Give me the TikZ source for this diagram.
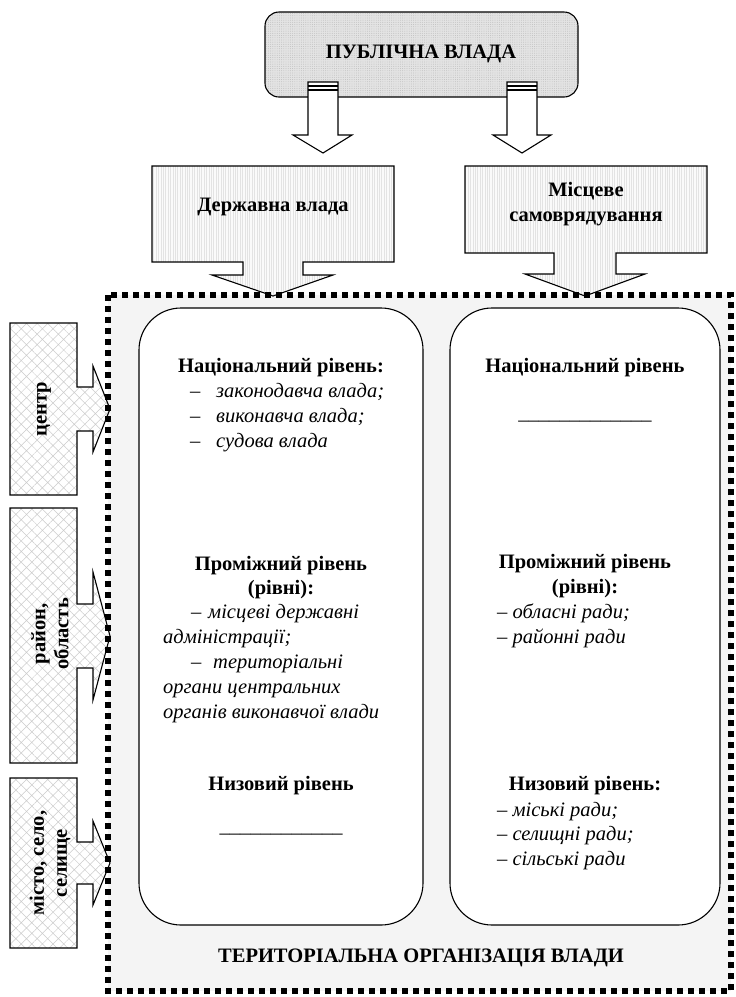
\documentclass[tikz,border=0pt]{standalone}
\usepackage{fontspec}
\setmainfont{Liberation Serif}
\usetikzlibrary{patterns.meta}
\newcommand\bodysize{\fontsize{20.5}{24.5}\selectfont}
\tikzset{
  outl/.style={line width=1.1pt, line join=miter},
  pubfill/.style={outl, preaction={fill=gray!22}, pattern={Dots[distance=2.2pt,radius=0.45pt]}, pattern color=gray!55},
  govfill/.style={outl, preaction={fill=gray!4}, pattern={Lines[angle=90,distance=2.4pt,line width=0.3pt]}, pattern color=gray!22},
  sidefill/.style={outl, preaction={fill=white}, pattern={Hatch[angle=45,distance=7.5pt,line width=0.5pt]}, pattern color=gray!40},
  lvlbox/.style={outl, fill=white, rounded corners=42pt},
  head/.style={font=\bodysize\bfseries, inner sep=0pt, anchor=base},
  item/.style={font=\bodysize\itshape, inner sep=0pt, anchor=base west},
  plain/.style={font=\bodysize, inner sep=0pt, anchor=base west},
  side/.style={font=\fontsize{20.5}{23}\selectfont\bfseries, inner sep=0pt, rotate=90, align=center},
}
\begin{document}
\begin{tikzpicture}[x=1pt,y=-1pt]
	\useasboundingbox (0,0) rectangle (736,997);
	% frame of the territorial organisation
	\fill[gray!9] (108,295) rectangle (731,991);
	\draw[lvlbox] (139,308) rectangle (423,925);
	\draw[lvlbox] (450,308) rectangle (720,925);
	% public power
	\draw[pubfill, rounded corners=14pt] (265,12) rectangle (578,97);
	\node[head] (pub) at (421,58) {ПУБЛІЧНА ВЛАДА};
	\draw[outl, fill=white] (308,82) -- (338,82) -- (338,135) -- (352,135) -- (323,153) -- (293,135) -- (308,135) -- cycle;
	\draw[outl] (308,86) -- (338,86) (308,90) -- (338,90);
	\draw[outl, fill=white] (507,82) -- (537,82) -- (537,135) -- (551,135) -- (522,153) -- (493,135) -- (507,135) -- cycle;
	\draw[outl] (507,86) -- (537,86) (507,90) -- (537,90);
	% state power and local self-government
	\draw[govfill] (152,166) -- (394,166) -- (394,262) -- (303,262) -- (303,275) -- (333,275) -- (273,296) -- (212,275) -- (243,275) -- (243,262) -- (152,262) -- cycle;
	\node[head] (gov) at (273,211) {Державна влада};
	\draw[govfill] (465,166) -- (707,166) -- (707,253) -- (616,253) -- (616,274) -- (645,274) -- (585,296) -- (525,274) -- (554,274) -- (554,253) -- (465,253) -- cycle;
	\node[head, anchor=center, align=center] (loc) at (586,204) {Місцеве\\самоврядування};
	% levels on the left
	\draw[sidefill] (10,323) -- (77,323) -- (77,387) -- (93,387) -- (93,366) -- (110,409) -- (93,452) -- (93,431) -- (77,431) -- (77,495) -- (10,495) -- cycle;
	\node[side] (cen) at (44,409) {центр};
	\draw[sidefill] (10,508) -- (77,508) -- (77,604) -- (93,604) -- (93,572) -- (110,636) -- (93,700) -- (93,668) -- (77,668) -- (77,763) -- (10,763) -- cycle;
	\node[side] (reg) at (50,634) {район,\\область};
	\draw[sidefill] (10,778) -- (77,778) -- (77,842) -- (93,842) -- (93,821) -- (110,863) -- (93,905) -- (93,884) -- (77,884) -- (77,948) -- (10,948) -- cycle;
	\node[side] (town) at (50,863) {місто, село,\\селище};
	% state power levels
	\node[head] (sn) at (281,372) {Національний рівень:};
	\node[plain] at (190,397) {–};
	\node[item] (sn1) at (216,397) {законодавча влада;};
	\node[plain] at (190,422) {–};
	\node[item] (sn2) at (216,422) {виконавча влада;};
	\node[plain] at (190,447) {–};
	\node[item] (sn3) at (216,447) {судова влада};
	\node[head] (sm) at (281,570) {Проміжний рівень};
	\node[head] (smr) at (281,594) {(рівні):};
	\node[plain] at (191,618) {–};
	\node[item] (sm1) at (208,618) {місцеві державні};
	\node[item] (sm1b) at (163,643) {адміністрації;};
	\node[plain] at (191,668) {–};
	\node[item] (sm2) at (213,668) {територіальні};
	\node[item] (sm2b) at (163,693) {органи центральних};
	\node[item] (sm2c) at (163,718) {органів виконавчої влади};
	\node[head] (sl) at (281,790) {Низовий рівень};
	\node[plain, anchor=base] (slx) at (281,832) {\_\_\_\_\_\_\_\_\_\_\_\_};
	% self-government levels
	\node[head] (ln) at (585,372) {Національний рівень};
	\node[plain, anchor=base] (lnx) at (585,419) {\_\_\_\_\_\_\_\_\_\_\_\_\_};
	\node[head] (lm) at (585,568) {Проміжний рівень};
	\node[head] (lmr) at (585,593) {(рівні):};
	\node[item] (lm1) at (497,618) {– обласні ради;};
	\node[item] (lm2) at (497,643) {– районні ради};
	\node[head] (ll) at (585,790) {Низовий рівень:};
	\node[item] (ll1) at (497,816) {– міські ради;};
	\node[item] (ll2) at (497,840) {– селищні ради;};
	\node[item] (ll3) at (497,865) {– сільські ради};
	\node[head] (terr) at (421,962) {ТЕРИТОРІАЛЬНА ОРГАНІЗАЦІЯ ВЛАДИ};
	\draw[line width=5.5pt, dash pattern=on 6pt off 5pt] (108,295) rectangle (731,991);
\end{tikzpicture}
\end{document}
